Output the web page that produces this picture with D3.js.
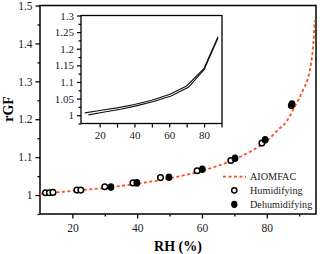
<!DOCTYPE html>
<html>
<head>
<meta charset="utf-8">
<script src="https://cdn.jsdelivr.net/npm/d3@7"></script>
<style>
  body { margin: 0; background: #fff; }
</style>
</head>
<body>
<div class="chart"></div>
<script>
// AIOMFAC model curve
var modelRH = [10, 20, 30, 40, 50, 60, 70, 75, 80, 83.6, 86.2, 88.2, 89.8, 91.3, 92.9, 93.7, 94.4, 94.8];
var modelGF = [1.003, 1.011, 1.019, 1.030, 1.044, 1.064, 1.094, 1.115, 1.143, 1.173, 1.195, 1.226, 1.252, 1.279, 1.314, 1.349, 1.402, 1.46];

// measurements
var humRH = [11.7, 12.9, 14.0, 21.4, 22.6, 30.0, 38.7, 47.2, 58.5, 68.9, 78.5, 87.6];
var humGF = [1.006, 1.006, 1.007, 1.013, 1.013, 1.022, 1.032, 1.046, 1.064, 1.091, 1.137, 1.236];
var dehRH = [31.9, 39.9, 49.8, 60.1, 70.2, 79.5, 87.8];
var dehGF = [1.021, 1.032, 1.047, 1.068, 1.097, 1.146, 1.240];

// inset lines
var insetRH1 = [11.5, 20, 30, 40, 50, 60, 70, 80, 88];
var insetGF1 = [1.007, 1.014, 1.022, 1.032, 1.045, 1.062, 1.088, 1.141, 1.236];
var insetRH2 = [13.5, 22, 32, 41, 51, 61, 71, 80, 88];
var insetGF2 = [1.001, 1.009, 1.018, 1.028, 1.041, 1.058, 1.084, 1.137, 1.232];

var mainXTicks = [20, 40, 60, 80];
var mainYTicks = [1, 1.1, 1.2, 1.3, 1.4, 1.5];
var insetXTicks = [20, 40, 60, 80];
var insetYTicks = [1, 1.05, 1.1, 1.15, 1.2, 1.25, 1.3];

var W = 320, H = 254;
var red = "#ff4a1c";
var serif = "'Liberation Serif'";

var svg = d3.select(".chart").append("svg")
    .attr("width", W).attr("height", H);

// ---- main plot
var x = d3.scaleLinear().domain([10, 95.2]).range([40, 316]);
var y = d3.scaleLinear().domain([0.95, 1.5]).range([214, 5.5]);

function fmt(d) { return String(+d.toFixed(2)); }

svg.append("g")
    .attr("transform", "translate(0,214)")
    .call(d3.axisBottom(x).tickValues([30, 50, 70, 90]).tickSize(2.5).tickFormat(""))
    .call(g => g.select(".domain").remove());
var xa = svg.append("g")
    .attr("transform", "translate(0,214)")
    .call(d3.axisBottom(x).tickValues(mainXTicks).tickSize(4.5).tickPadding(5).tickFormat(fmt));
xa.select(".domain").remove();

svg.append("g")
    .attr("transform", "translate(40,0)")
    .call(d3.axisLeft(y).tickValues([0.95, 1.05, 1.15, 1.25, 1.35, 1.45]).tickSize(2.5).tickFormat(""))
    .call(g => g.select(".domain").remove());
var ya = svg.append("g")
    .attr("transform", "translate(40,0)")
    .call(d3.axisLeft(y).tickValues(mainYTicks).tickSize(4.5).tickPadding(3).tickFormat(fmt));
ya.select(".domain").remove();

svg.selectAll(".tick line").attr("stroke", "#000").attr("stroke-width", 1.3);

// frame
svg.append("rect")
    .attr("x", 40).attr("y", 5.5).attr("width", 276).attr("height", 208.5)
    .attr("fill", "none").attr("stroke", "#000").attr("stroke-width", 1.5);

// model curve
var model = modelRH.map((d, i) => [d, modelGF[i]]);
svg.append("path")
    .datum(model)
    .attr("fill", "none")
    .attr("stroke", red)
    .attr("stroke-width", 1.8)
    .attr("stroke-dasharray", "3,2.5")
    .attr("d", d3.line().x(d => x(d[0])).y(d => y(d[1])).curve(d3.curveMonotoneX));

// points
svg.selectAll(".hum")
    .data(humRH.map((d, i) => [d, humGF[i]]))
    .enter().append("circle")
    .attr("cx", d => x(d[0])).attr("cy", d => y(d[1]))
    .attr("r", 2.8)
    .attr("fill", "#fff").attr("stroke", "#000").attr("stroke-width", 1.5);

svg.selectAll(".deh")
    .data(dehRH.map((d, i) => [d, dehGF[i]]))
    .enter().append("ellipse")
    .attr("cx", d => x(d[0])).attr("cy", d => y(d[1]))
    .attr("rx", 3.4).attr("ry", 3.8)
    .attr("fill", "#000");

// legend
var lg = svg.append("g").attr("font-size", 10.2).attr("fill", "#222");
lg.append("line")
    .attr("x1", 223).attr("x2", 246).attr("y1", 176.7).attr("y2", 176.7)
    .attr("stroke", red).attr("stroke-width", 1.8).attr("stroke-dasharray", "3,2.5");
lg.append("text").attr("x", 250).attr("y", 180.3).text("AIOMFAC");
lg.append("circle").attr("cx", 234.3).attr("cy", 190.3).attr("r", 2.6)
    .attr("fill", "#fff").attr("stroke", "#000").attr("stroke-width", 1.5);
lg.append("text").attr("x", 250).attr("y", 194).text("Humidifying");
lg.append("ellipse").attr("cx", 234.3).attr("cy", 204.3).attr("rx", 3.2).attr("ry", 3.6)
    .attr("fill", "#000");
lg.append("text").attr("x", 250).attr("y", 208).text("Dehumidifying");

// axis titles
svg.append("text")
    .attr("x", 178).attr("y", 250.5)
    .attr("text-anchor", "middle")
    .attr("font-size", 14).attr("font-weight", "bold")
    .text("RH (%)");
svg.append("text")
    .attr("transform", "translate(13,109) rotate(-90)")
    .attr("text-anchor", "middle")
    .attr("font-size", 14).attr("font-weight", "bold")
    .text("rGF");

// ---- inset
var ix = d3.scaleLinear().domain([9.3, 90.3]).range([81, 222]);
var iy = d3.scaleLinear().domain([0.975, 1.3]).range([123.5, 15.5]);
var inset = svg.append("g");

inset.append("rect")
    .attr("x", 81).attr("y", 15.5).attr("width", 141).attr("height", 108)
    .attr("fill", "#fff");

var ixa = inset.append("g")
    .attr("transform", "translate(0,123.5)")
    .call(d3.axisBottom(ix).tickValues([20, 30, 40, 50, 60, 70, 80, 90]).tickSize(4).tickPadding(4)
        .tickFormat(d => insetXTicks.indexOf(d) >= 0 ? d : ""));
ixa.select(".domain").remove();

inset.append("g")
    .attr("transform", "translate(81,0)")
    .call(d3.axisLeft(iy).tickValues([0.975, 1.025, 1.075, 1.125, 1.175, 1.225, 1.275]).tickSize(2.5).tickFormat(""))
    .call(g => g.select(".domain").remove());
var iya = inset.append("g")
    .attr("transform", "translate(81,0)")
    .call(d3.axisLeft(iy).tickValues(insetYTicks).tickSize(4).tickPadding(3).tickFormat(fmt));
iya.select(".domain").remove();
inset.selectAll(".tick line").attr("stroke", "#000").attr("stroke-width", 1.2);

inset.append("rect")
    .attr("x", 81).attr("y", 15.5).attr("width", 141).attr("height", 108)
    .attr("fill", "none").attr("stroke", "#000").attr("stroke-width", 1.3);

var iline = d3.line().x(d => ix(d[0])).y(d => iy(d[1]));
[[insetRH1, insetGF1], [insetRH2, insetGF2]].forEach(function (s) {
  inset.append("path")
      .datum(s[0].map((d, i) => [d, s[1][i]]))
      .attr("fill", "none")
      .attr("stroke", "#111")
      .attr("stroke-width", 1.1)
      .attr("d", iline);
});

// tick label sizes, then serif everywhere
svg.selectAll(".tick text").attr("font-size", 11.5).attr("fill", "#222");
inset.selectAll(".tick text").attr("font-size", 11);
svg.selectAll("text").style("font-family", serif);
</script>
</body>
</html>
